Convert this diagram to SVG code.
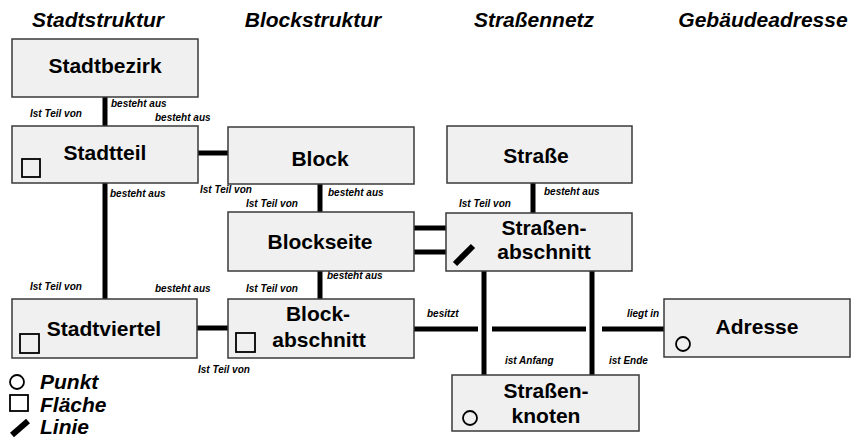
<svg xmlns="http://www.w3.org/2000/svg" width="853" height="438" viewBox="0 0 853 438">
<style>
.box{fill:#f0f0f0;stroke:#3a3a3a;stroke-width:1.5}
.nt{font-family:"Liberation Sans",Arial,sans-serif;font-weight:bold;font-size:21px;text-anchor:middle;fill:#000}
.tt{font-family:"Liberation Sans",Arial,sans-serif;font-weight:bold;font-style:italic;font-size:21px;text-anchor:middle;fill:#000}
.lt{font-family:"Liberation Sans",Arial,sans-serif;font-weight:bold;font-style:italic;font-size:21px;fill:#000}
.lb{font-family:"Liberation Sans",Arial,sans-serif;font-weight:bold;font-style:italic;font-size:10px;fill:#000}
.c{stroke:#000;stroke-width:5;fill:none}
.ico{fill:none;stroke:#000;stroke-width:1.8}
.lin{stroke:#000;stroke-width:6;stroke-linecap:butt}
</style>
<rect width="853" height="438" fill="#fff"/>
<g id="titles">
<text class="tt" x="98" y="27">Stadtstruktur</text>
<text class="tt" x="313" y="27">Blockstruktur</text>
<text class="tt" x="534" y="27">Straßennetz</text>
<text class="tt" x="763" y="27">Gebäudeadresse</text>
</g>
<g id="connectors">
<line class="c" x1="105" y1="97" x2="105" y2="126"/>
<line class="c" x1="198" y1="153" x2="228" y2="153" stroke-width="6"/>
<line class="c" x1="105" y1="183" x2="105" y2="299"/>
<line class="c" x1="320" y1="184" x2="320" y2="212"/>
<line class="c" x1="320" y1="271" x2="320" y2="299"/>
<line class="c" x1="197" y1="328" x2="228" y2="328"/>
<line class="c" x1="414" y1="228" x2="446" y2="228"/>
<line class="c" x1="414" y1="252" x2="446" y2="252"/>
<line class="c" x1="533" y1="183" x2="533" y2="213"/>
<line class="c" x1="484" y1="271" x2="484" y2="375"/>
<line class="c" x1="592" y1="271" x2="592" y2="375"/>
<line class="c" x1="414" y1="329" x2="478" y2="329"/>
<line class="c" x1="492" y1="329" x2="586" y2="329"/>
<line class="c" x1="602" y1="329" x2="664" y2="329"/>
</g>
<g id="labels">
<text class="lb" x="30" y="117">Ist Teil von</text>
<text class="lb" x="111" y="107">besteht aus</text>
<text class="lb" x="155" y="121">besteht aus</text>
<text class="lb" x="110" y="197">besteht aus</text>
<text class="lb" x="200" y="193">Ist Teil von</text>
<text class="lb" x="328" y="196">besteht aus</text>
<text class="lb" x="246" y="207">Ist Teil von</text>
<text class="lb" x="327" y="279">besteht aus</text>
<text class="lb" x="30" y="290">Ist Teil von</text>
<text class="lb" x="155" y="292">besteht aus</text>
<text class="lb" x="246" y="292">Ist Teil von</text>
<text class="lb" x="198" y="373">Ist Teil von</text>
<text class="lb" x="544" y="195">besteht aus</text>
<text class="lb" x="459" y="207">Ist Teil von</text>
<text class="lb" x="427" y="317">besitzt</text>
<text class="lb" x="627" y="317">liegt in</text>
<text class="lb" x="505" y="364">ist Anfang</text>
<text class="lb" x="609" y="364">ist Ende</text>
</g>
<g id="stadtbezirk">
<rect class="box" x="12" y="39" width="186" height="58"/>
<text class="nt" x="105" y="73">Stadtbezirk</text>
</g>
<g id="stadtteil">
<rect class="box" x="12" y="126" width="186" height="57"/>
<text class="nt" x="105" y="160">Stadtteil</text>
<rect class="ico" x="22" y="159" width="18" height="18"/>
</g>
<g id="block">
<rect class="box" x="228" y="127" width="186" height="57"/>
<text class="nt" x="320" y="166">Block</text>
</g>
<g id="strasse">
<rect class="box" x="447" y="126" width="185" height="57"/>
<text class="nt" x="536" y="163">Straße</text>
</g>
<g id="blockseite">
<rect class="box" x="228" y="212" width="186" height="59"/>
<text class="nt" x="320" y="249">Blockseite</text>
</g>
<g id="strassenabschnitt">
<rect class="box" x="446" y="213" width="186" height="58"/>
<text class="nt" x="544" y="235">Straßen-</text>
<text class="nt" x="544" y="259">abschnitt</text>
<line class="lin" x1="455" y1="264" x2="473" y2="246"/>
</g>
<g id="stadtviertel">
<rect class="box" x="12" y="299" width="185" height="59"/>
<text class="nt" x="104" y="336">Stadtviertel</text>
<rect class="ico" x="20" y="334" width="19" height="19"/>
</g>
<g id="blockabschnitt">
<rect class="box" x="228" y="299" width="186" height="59"/>
<text class="nt" x="318" y="321">Block-</text>
<text class="nt" x="319" y="347">abschnitt</text>
<rect class="ico" x="236" y="333" width="19" height="19"/>
</g>
<g id="adresse">
<rect class="box" x="664" y="299" width="186" height="58"/>
<text class="nt" x="757" y="334">Adresse</text>
<circle class="ico" cx="683" cy="344" r="7"/>
</g>
<g id="strassenknoten">
<rect class="box" x="452" y="375" width="187" height="56"/>
<text class="nt" x="546" y="398">Straßen-</text>
<text class="nt" x="546" y="423">knoten</text>
<circle class="ico" cx="470" cy="418" r="7"/>
</g>
<g id="legend">
<circle class="ico" cx="17" cy="382" r="7"/>
<text class="lt" x="40" y="389">Punkt</text>
<rect class="ico" x="10" y="395" width="18" height="16"/>
<text class="lt" x="40" y="412">Fläche</text>
<line class="lin" x1="12" y1="435" x2="28" y2="421"/>
<text class="lt" x="40" y="434">Linie</text>
</g>
</svg>
